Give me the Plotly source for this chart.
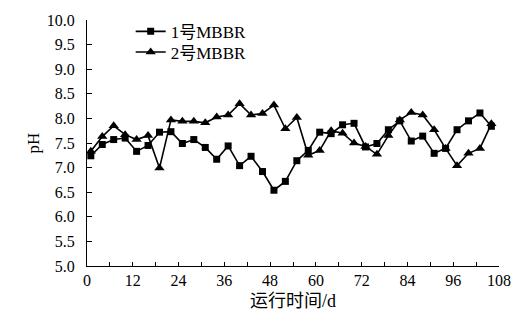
import plotly.graph_objects as go

# Sampling days (every 3 days)
days = [1, 4, 7, 10, 13, 16, 19, 22, 25, 28, 31, 34, 37, 40, 43, 46, 49, 52,
        55, 58, 61, 64, 67, 70, 73, 76, 79, 82, 85, 88, 91, 94, 97, 100, 103, 106]

# pH of reactor 1
ph_mbbr1 = [7.24, 7.47, 7.57, 7.60, 7.33, 7.45, 7.72, 7.73, 7.49, 7.57, 7.41, 7.17,
            7.44, 7.04, 7.23, 6.92, 6.54, 6.72, 7.14, 7.35, 7.72, 7.69, 7.87, 7.90,
            7.42, 7.49, 7.77, 7.95, 7.54, 7.64, 7.29, 7.39, 7.77, 7.95, 8.11, 7.84]

# pH of reactor 2
ph_mbbr2 = [7.33, 7.63, 7.85, 7.67, 7.57, 7.65, 6.99, 7.97, 7.94, 7.94, 7.91, 8.03,
            8.07, 8.30, 8.07, 8.10, 8.27, 7.79, 8.02, 7.25, 7.35, 7.75, 7.70, 7.50,
            7.43, 7.27, 7.65, 7.97, 8.12, 8.07, 7.77, 7.39, 7.04, 7.29, 7.39, 7.89]

names = ["1号MBBR", "2号MBBR"]

x_ticks = list(range(0, 109, 12))
y_ticks = [5.0 + 0.5 * i for i in range(11)]

serif = "Liberation Serif, Times New Roman, Noto Sans CJK SC, serif"

fig = go.Figure()
fig.add_trace(go.Scatter(
    x=days, y=ph_mbbr1, name=names[0], mode="lines+markers", legend="legend",
    line=dict(color="black", width=1.6),
    marker=dict(symbol="square", size=7, color="black"),
))
fig.add_trace(go.Scatter(
    x=days, y=ph_mbbr2, name=names[1], mode="lines+markers", legend="legend2",
    line=dict(color="black", width=1.6),
    marker=dict(symbol="triangle-up", size=9, color="black"),
))

# one single-entry legend per series so the two rows sit close together
legend_style = dict(
    x=0.106, xanchor="left", yanchor="middle",
    bgcolor="rgba(0,0,0,0)", font=dict(size=17, family=serif), itemwidth=30,
)

fig.update_layout(
    width=523, height=320,
    margin=dict(l=87, r=21, t=18, b=52),
    paper_bgcolor="white", plot_bgcolor="white",
    font=dict(family=serif, size=16, color="black"),
    showlegend=True,
    legend=dict(y=0.952, **legend_style),
    legend2=dict(y=0.868, **legend_style),
    xaxis=dict(
        range=[0, 108], tickvals=x_ticks, ticktext=[str(v) for v in x_ticks],
        showgrid=False, zeroline=False, showline=True, linecolor="black", linewidth=1.2,
        ticks="inside", ticklen=4, tickcolor="black", tickfont=dict(size=16),
        minor=dict(dtick=6, tick0=0, ticks="inside", ticklen=4, tickcolor="black"),
        title=dict(text="运行时间/d", font=dict(size=18, family=serif), standoff=6),
    ),
    yaxis=dict(
        range=[5.0, 10.0], tickvals=y_ticks, ticktext=[f"{v:.1f}" for v in y_ticks],
        showgrid=False, zeroline=False, showline=True, linecolor="black", linewidth=1.2,
        ticks="inside", ticklen=5, tickcolor="black", tickfont=dict(size=16),
        ticklabelstandoff=8,
        title=dict(text="pH", font=dict(size=17, family=serif), standoff=2),
    ),
)

fig.write_html("out.html")
